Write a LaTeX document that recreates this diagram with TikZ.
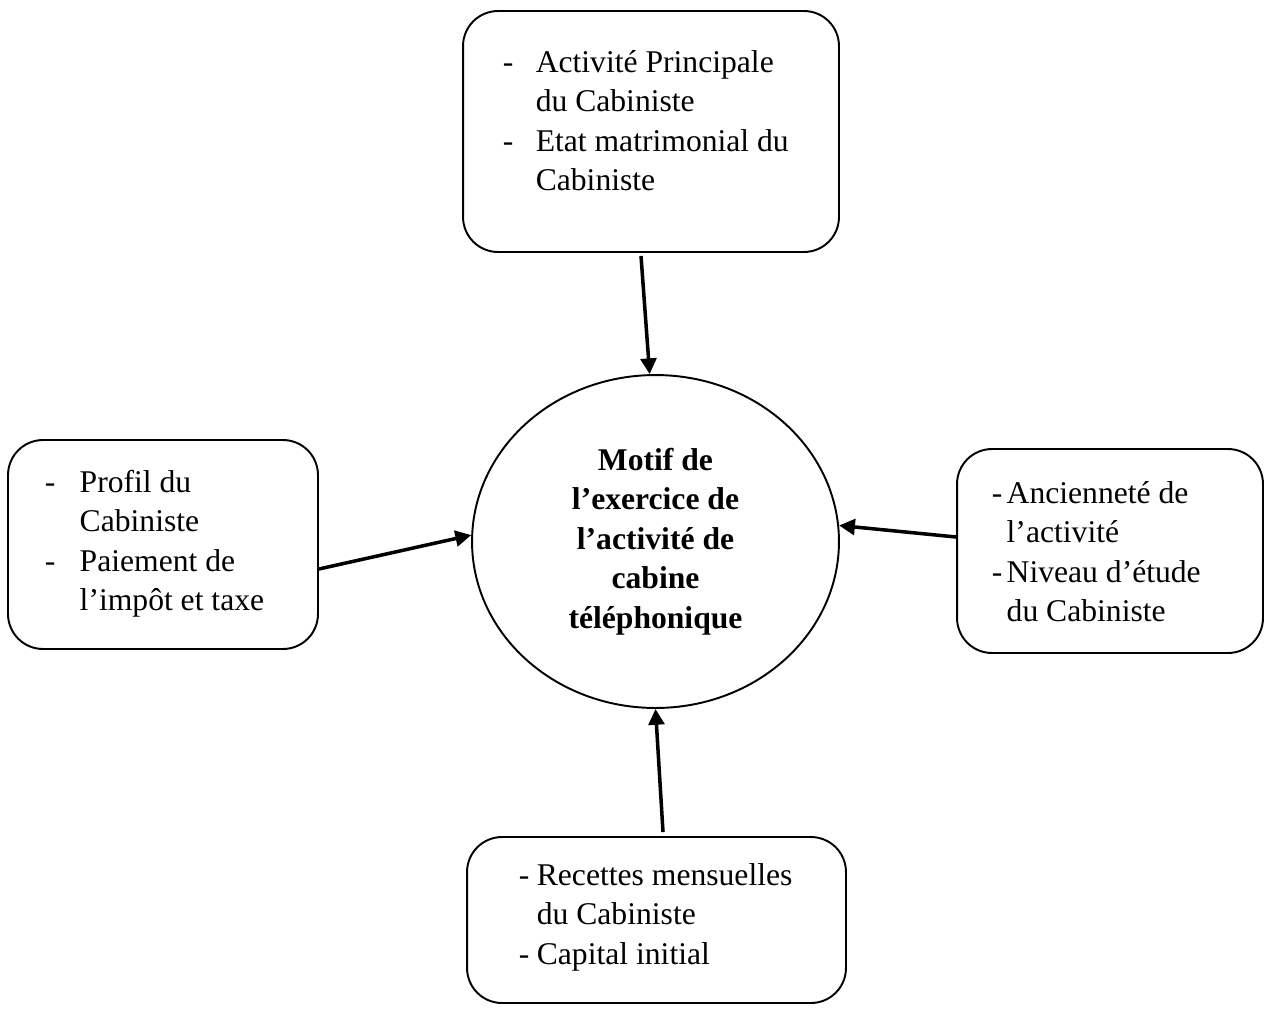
\documentclass[tikz,border=0pt]{standalone}
\usepackage{fontspec}
\setmainfont{Liberation Serif}
\usetikzlibrary{arrows.meta,shapes.geometric,calc}
\tikzset{
  boite/.style={draw,rounded corners=0.7cm,line width=1.1pt},
  liste/.style={anchor=base west,inner sep=0pt,font=\fontsize{18}{22.5}\selectfont},
}
\newcommand{\puces}[2]{\begin{tabular}[t]{@{}p{#1}@{}l@{}}#2\end{tabular}}

\begin{document}
\begin{tikzpicture}[x=0.02cm,y=-0.02cm,>={Triangle[length=9pt,width=9pt]},line width=2pt]
		\useasboundingbox (0,0) rectangle (1267,1008);
		% boites
		\node[boite,minimum width=7.52cm,minimum height=4.82cm] (haut) at (651,131.5) {};
		\node[boite,minimum width=6.2cm,minimum height=4.18cm] (gauche) at (163,544.5) {};
		\node[boite,minimum width=6.12cm,minimum height=4.08cm] (droite) at (1110,551) {};
		\node[boite,minimum width=7.58cm,minimum height=3.32cm] (bas) at (656.5,920) {};
		\node[draw,ellipse,line width=1.1pt,minimum width=7.34cm,minimum height=6.66cm,align=center,
		      font=\fontsize{18}{22.5}\selectfont\bfseries] (motif) at (655.5,541.5)
		      {Motif de\\l’exercice de\\l’activité de\\cabine\\téléphonique};
		
		% textes
		\node[liste] (thaut) at (501,72) {\puces{18.8pt}{- & Activité Principale\\ & du Cabiniste\\ - & Etat matrimonial du\\ & Cabiniste}};
		\node[liste] (tgauche) at (43,492) {\puces{19.9pt}{- & Profil du\\ & Cabiniste\\ - & Paiement de\\ & l’impôt et taxe}};
		\node[liste] (tdroite) at (990,503) {\puces{8.5pt}{- & Ancienneté de\\ & l’activité\\ - & Niveau d’étude\\ & du Cabiniste}};
		\node[liste] (tbas) at (517,885) {\puces{10.3pt}{- & Recettes mensuelles\\ & du Cabiniste\\ - & Capital initial}};
		
		% fleches
		\draw[->] ($(haut.south)+(-10,3)$) -- (motif.92);
		\draw[->] ($(gauche.east)+(0,24.5)$) -- (motif.178);
		\draw[->] ($(droite.west)+(0,-14)$) -- (motif.5);
		\draw[->] ($(bas.north)+(6.5,-4)$) -- (motif.270);
\end{tikzpicture}
\end{document}
